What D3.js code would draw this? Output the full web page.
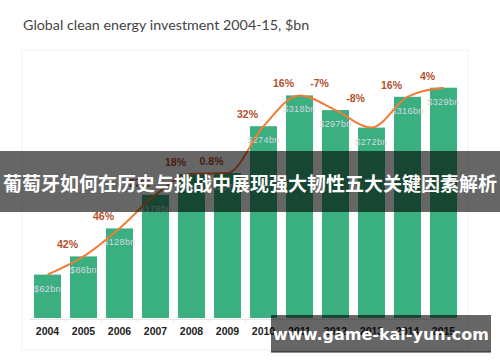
<!DOCTYPE html>
<html>
<head>
<meta charset="utf-8">
<script src="https://cdn.jsdelivr.net/npm/d3@7"></script>
<style>
  body { margin: 0; background: #fff; }
  svg { display: block; }
</style>
</head>
<body>
<svg id="chart" width="500" height="362"></svg>
<script>
// values
var years = ["2004", "2005", "2006", "2007", "2008", "2009", "2010", "2011", "2012", "2013", "2014", "2015"]
var invest = [62, 88, 128, 176, 206, 207, 274, 318, 297, 272, 316, 329]
var growth = [null, "42%", "46%", "37%", "18%", "0.8%", "32%", "16%", "-7%", "-8%", "16%", "4%"]
var title = "Global clean energy investment 2004-15, $bn"
var banner = "葡萄牙如何在历史与挑战中展现强大韧性五大关键因素解析"
var watermark = "www.game-kai-yun.com"

function drawChart() {
    var width = 500, height = 362
    var baseY = 318
    var svg = d3.select("#chart")

    var data = years.map((y, i) => ({ year: y, value: invest[i], pct: growth[i], prev: i > 0 ? invest[i - 1] : invest[i] }))

    // faint card behind the chart
    svg.append("rect")
        .attr("x", 22).attr("y", 50)
        .attr("width", 446).attr("height", 300)
        .attr("fill", "#fff")
        .attr("stroke", "#f1f1f1")

    svg.append("text")
        .attr("x", 23)
        .attr("y", 30)
        .style("font-family", "Lato, 'Open Sans', sans-serif")
        .style("font-size", "14.3px")
        .style("fill", "#444")
        .text(title)

    var xScale = d3.scaleBand()
        .domain(years)
        .range([29.5, 461.5])
        .paddingInner(0.25)
        .paddingOuter(0.125)
    var yScale = d3.scaleLinear()
        .domain([0, 350])
        .range([baseY, baseY - 245])

    // x axis
    var xAxis = svg.append("g")
        .attr("transform", "translate(0," + (baseY + 1) + ")")
        .call(d3.axisBottom(xScale).tickSize(0).tickPadding(9))
    xAxis.select(".domain").attr("stroke", "#e6e6e6")
    xAxis.selectAll("text")
        .style("font-family", "Arial, 'Liberation Sans', sans-serif")
        .style("font-size", "10.5px")
        .style("font-weight", "bold")
        .style("fill", "#222")
    svg.append("g").selectAll("line")
        .data(years.slice(1))
        .enter()
        .append("line")
        .attr("x1", d => xScale(d) - xScale.step() * xScale.paddingInner() / 2)
        .attr("x2", d => xScale(d) - xScale.step() * xScale.paddingInner() / 2)
        .attr("y1", baseY + 1).attr("y2", baseY + 4)
        .attr("stroke", "#e6e6e6")

    // bars
    svg.append("g").selectAll("rect")
        .data(data)
        .enter()
        .append("rect")
        .attr("x", d => xScale(d.year))
        .attr("y", d => yScale(d.value))
        .attr("width", xScale.bandwidth())
        .attr("height", d => baseY - yScale(d.value))
        .attr("fill", "#3aaf7f")

    // value labels inside bars
    svg.append("g").selectAll("text")
        .data(data)
        .enter()
        .append("text")
        .attr("x", d => xScale(d.year) + xScale.bandwidth() / 2)
        .attr("y", d => yScale(d.value) + 17)
        .attr("text-anchor", "middle")
        .style("font-family", "Arial, 'Liberation Sans', sans-serif")
        .style("font-size", "9px")
        .style("letter-spacing", "0.4px")
        .style("fill", "#d8d8e6")
        .text(d => "$" + d.value + "bn")

    // growth line
    svg.append("path")
        .datum(data)
        .attr("fill", "none")
        .attr("stroke", "#f07c3a")
        .attr("stroke-width", 2)
        .attr("d", d3.line()
            .curve(d3.curveMonotoneX)
            .x(d => xScale(d.year) + xScale.bandwidth() / 2)
            .y(d => yScale(d.value)))

    // growth labels
    svg.append("g").selectAll("text")
        .data(data.filter(d => d.pct))
        .enter()
        .append("text")
        .attr("x", d => xScale(d.year) + xScale.bandwidth() / 2 - 16)
        .attr("y", d => yScale(Math.max(d.value, d.prev)) - 8)
        .attr("text-anchor", "middle")
        .style("font-family", "Arial, 'Liberation Sans', sans-serif")
        .style("font-size", "10.5px")
        .style("font-weight", "bold")
        .style("fill", "#b4502c")
        .text(d => d.pct)

    // overlay banner
    svg.append("rect")
        .attr("x", 0).attr("y", 151)
        .attr("width", width).attr("height", 61)
        .attr("fill", "#000")
        .attr("opacity", 0.6)
    svg.append("text")
        .attr("x", width / 2)
        .attr("y", 191)
        .attr("text-anchor", "middle")
        .style("font-family", "'Noto Sans CJK SC', sans-serif")
        .style("font-size", "19px")
        .style("font-weight", "bold")
        .style("fill", "#fff")
        .text(banner)

    // watermark
    svg.append("rect")
        .attr("x", 271).attr("y", 315)
        .attr("width", 220).attr("height", 37)
        .attr("fill", "#000")
        .attr("opacity", 0.6)
    svg.append("line")
        .attr("x1", 271).attr("x2", 491)
        .attr("y1", 352).attr("y2", 352)
        .attr("stroke", "#222")
    svg.append("text")
        .attr("x", 381)
        .attr("y", 340)
        .attr("text-anchor", "middle")
        .style("font-family", "'DejaVu Sans', sans-serif")
        .style("font-size", "16px")
        .style("font-weight", "bold")
        .style("fill", "#fff")
        .text(watermark)
}
drawChart()
</script>
</body>
</html>
